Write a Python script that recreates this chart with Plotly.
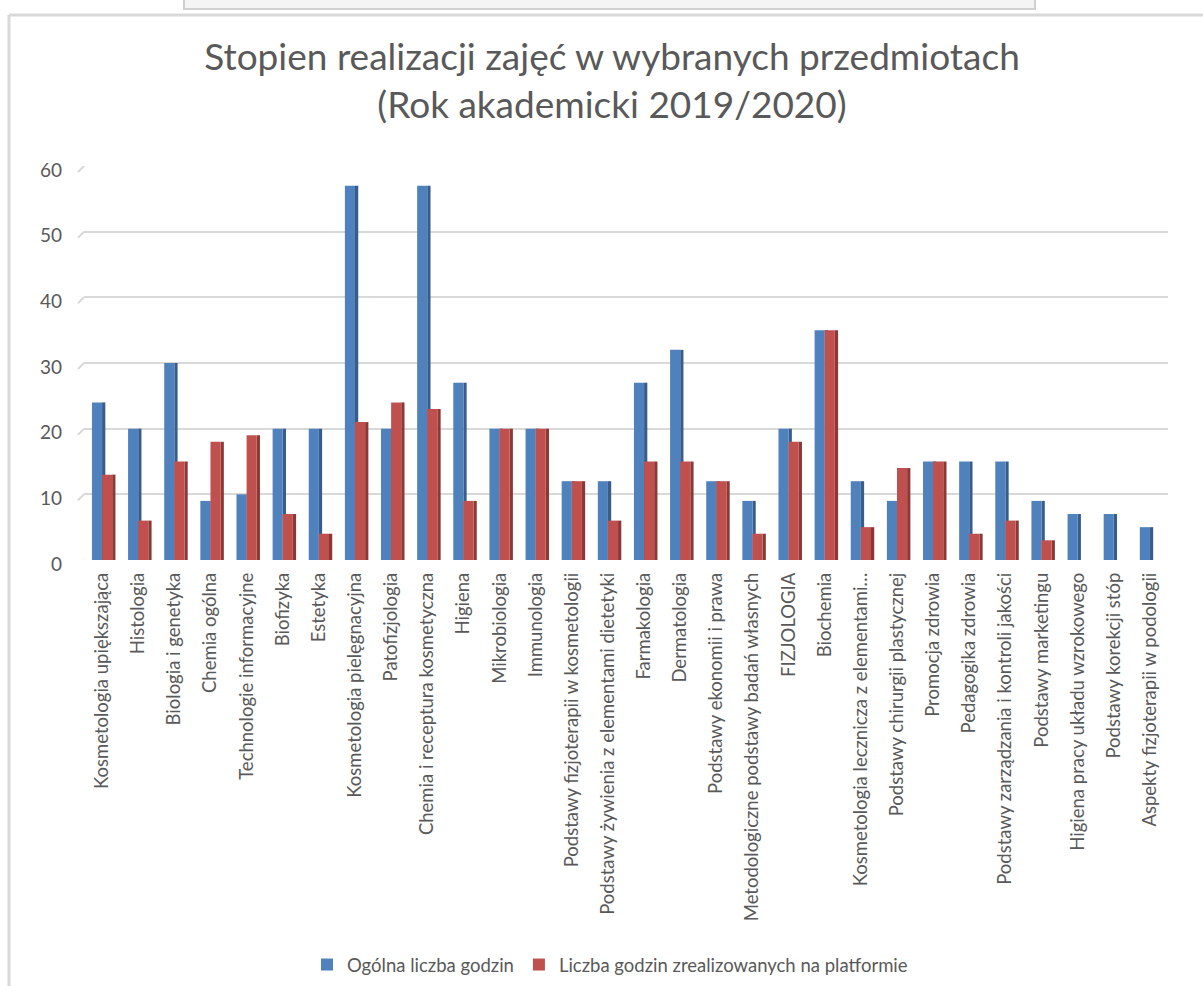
import plotly.graph_objects as go

categories = [
    "Kosmetologia upiększająca", "Histologia", "Biologia i genetyka", "Chemia ogólna",
    "Technologie informacyjne", "Biofizyka", "Estetyka", "Kosmetologia pielęgnacyjna",
    "Patofizjologia", "Chemia i receptura kosmetyczna", "Higiena", "Mikrobiologia",
    "Immunologia", "Podstawy fizjoterapii w kosmetologii",
    "Podstawy żywienia z elementami dietetyki", "Farmakologia", "Dermatologia",
    "Podstawy ekonomii i prawa", "Metodologiczne podstawy badań własnych", "FIZJOLOGIA",
    "Biochemia", "Kosmetologia lecznicza z elementami…", "Podstawy chirurgii plastycznej",
    "Promocja zdrowia", "Pedagogika zdrowia", "Podstawy zarządzania i kontroli jakości",
    "Podstawy marketingu", "Higiena pracy układu wzrokowego", "Podstawy korekcji stóp",
    "Aspekty fizjoterapii w podologii",
]
total_hours = [24, 20, 30, 9, 10, 20, 20, 57, 20, 57, 27, 20, 20, 12, 12, 27, 32, 12, 9, 20,
               35, 12, 9, 15, 15, 15, 9, 7, 7, 5]
platform_hours = [13, 6, 15, 18, 19, 7, 4, 21, 24, 23, 9, 20, 20, 12, 6, 15, 15, 12, 4, 18,
                  35, 5, 14, 15, 4, 6, 3, 0, 0, 0]

series_names = ["Ogólna liczba godzin", "Liczba godzin zrealizowanych na platformie"]
y_ticks = [0, 10, 20, 30, 40, 50, 60]

BLUE, BLUE_DARK = "#4F81BD", "#385D8A"
RED, RED_DARK = "#C0504D", "#8C3836"
TXT = "#595959"
GRID = "#D9D9D9"
FONT = "Lato"

W, H = 1203, 986
L, R, T, B = 84, 35, 166, 426
PW, PH = W - L - R, H - T - B

front_w = 0.28
side_w = 0.09

fig = go.Figure()
fig.add_trace(go.Bar(x=categories, y=total_hours, width=side_w, offset=0.0,
                     marker=dict(color=BLUE_DARK, line=dict(width=0)), showlegend=False,
                     hoverinfo="skip"))
fig.add_trace(go.Bar(x=categories, y=total_hours, width=front_w, offset=-front_w,
                     name=series_names[0], marker=dict(color=BLUE, line=dict(width=0))))
fig.add_trace(go.Bar(x=categories, y=platform_hours, width=side_w, offset=front_w,
                     marker=dict(color=RED_DARK, line=dict(width=0)), showlegend=False,
                     hoverinfo="skip"))
fig.add_trace(go.Bar(x=categories, y=platform_hours, width=front_w, offset=0.0,
                     name=series_names[1], marker=dict(color=RED, line=dict(width=0))))


def px_x(p):
    return (p - L) / PW


def px_y(p):
    return (H - B - p) / PH


shapes = [
    dict(type="line", xref="paper", yref="paper", x0=px_x(9), x1=px_x(W + 5),
         y0=px_y(15), y1=px_y(15), line=dict(color=GRID, width=3)),
    dict(type="line", xref="paper", yref="paper", x0=px_x(9), x1=px_x(9),
         y0=px_y(15), y1=px_y(H + 5), line=dict(color=GRID, width=3)),
    dict(type="rect", xref="paper", yref="paper", x0=px_x(184), x1=px_x(1035),
         y0=px_y(9), y1=px_y(-3), fillcolor="#F4F4F4", line=dict(color="#D0D0D0", width=2)),
]
for t in y_ticks:
    shapes.append(dict(type="line", xref="paper", xsizemode="pixel", xanchor=0,
                       x0=-6, x1=0, yref="y", ysizemode="pixel", yanchor=t, y0=-6, y1=0,
                       line=dict(color=GRID, width=2)))

fig.update_layout(
    width=W, height=H,
    margin=dict(l=L, r=R, t=T, b=B, autoexpand=False),
    barmode="overlay",
    paper_bgcolor="white", plot_bgcolor="white",
    font=dict(family=FONT, color=TXT, size=18),
    title=dict(
        text="Stopien realizacji zajęć w wybranych przedmiotach<br>(Rok akademicki 2019/2020)",
        x=612 / W, xanchor="center", xref="container",
        y=1 - 70 / H, yanchor="middle", yref="container",
        font=dict(family=FONT, size=37, color=TXT),
    ),
    xaxis=dict(
        tickangle=-90, showgrid=False, zeroline=False, showline=False,
        ticks="", tickfont=dict(size=18.5, color=TXT),
        range=[-0.5, len(categories) - 0.5],
        ticklabelstandoff=8,
    ),
    yaxis=dict(
        range=[0, 60], tickvals=y_ticks, showgrid=True, gridcolor=GRID, gridwidth=2,
        zeroline=False, showline=False, ticks="", tickfont=dict(size=19, color=TXT),
        ticklabelstandoff=21, ticklabelshift=4,
    ),
    legend=dict(
        orientation="h", x=px_x(610), xanchor="center", y=px_y(965), yanchor="middle",
        font=dict(size=18.5, color=TXT), itemwidth=30, traceorder="normal",
    ),
    shapes=shapes,
)

fig.write_html("out.html", config={"displayModeBar": False},
               post_script="document.body.style.margin='0';document.body.style.padding='0';")
